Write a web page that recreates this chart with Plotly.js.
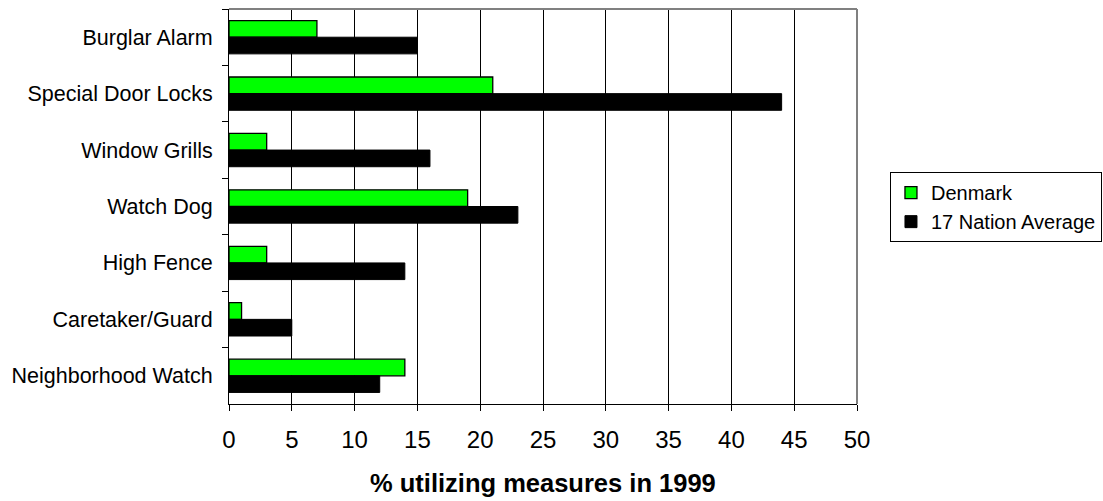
<!DOCTYPE html>
<html>
<head>
<meta charset="utf-8">
<script src="https://cdn.plot.ly/plotly-3.0.1.min.js"></script>
<style>
html,body{margin:0;padding:0;background:#fff;}
#chart{width:1103px;height:501px;}
</style>
</head>
<body>
<div id="chart"></div>
<script>
const categories = ["Burglar Alarm", "Special Door Locks", "Window Grills", "Watch Dog", "High Fence", "Caretaker/Guard", "Neighborhood Watch"];
const denmark = [7, 21, 3, 19, 3, 1, 14];
const nationAverage = [15, 44, 16, 23, 14, 5, 12];
const seriesNames = ["Denmark", "17 Nation Average"];
const xTicks = [0, 5, 10, 15, 20, 25, 30, 35, 40, 45, 50];
const xTitle = "% utilizing measures in 1999";

const FONT = "Liberation Sans, Arial, sans-serif";

const traces = [
  {
    type: "bar", orientation: "h", name: seriesNames[0],
    y: categories, x: denmark,
    marker: {color: "#00FF00", line: {color: "#000000", width: 1.3}},
    hoverinfo: "x+y"
  },
  {
    type: "bar", orientation: "h", name: seriesNames[1],
    y: categories, x: nationAverage,
    marker: {color: "#000000", line: {color: "#000000", width: 1}},
    hoverinfo: "x+y"
  }
];

const layout = {
  width: 1103, height: 501,
  paper_bgcolor: "#ffffff", plot_bgcolor: "#ffffff",
  margin: {l: 229, r: 246, t: 9, b: 97, autoexpand: false},
  font: {family: FONT, color: "#000000", size: 20},
  barmode: "group", bargap: 0.41, bargroupgap: 0,
  showlegend: true,
  legend: {
    x: 1.0525, xanchor: "left", y: 0.587, yanchor: "top",
    bordercolor: "#000000", borderwidth: 1, bgcolor: "#ffffff",
    font: {family: FONT, size: 20, color: "#000000"},
    itemwidth: 30, traceorder: "normal", tracegroupgap: 0
  },
  xaxis: {
    range: [0, 50], tickvals: xTicks, ticktext: xTicks.map(String),
    ticks: "outside", ticklen: 6, tickcolor: "#000000", tickwidth: 1,
    showgrid: true, gridcolor: "#000000", gridwidth: 1,
    zeroline: false, showline: true, linecolor: "#000000", linewidth: 1,
    tickfont: {family: FONT, size: 24, color: "#000000"},
    ticklabelstandoff: 8,
    fixedrange: true
  },
  yaxis: {
    type: "category", autorange: "reversed",
    tickson: "boundaries", ticks: "outside", ticklen: 6, tickcolor: "#000000",
    showgrid: false, zeroline: false, showline: true, linecolor: "#000000", linewidth: 1,
    tickfont: {family: FONT, size: 21.5, color: "#000000"},
    ticklabelstandoff: 11,
    fixedrange: true
  },
  shapes: [
    {type: "line", xref: "paper", yref: "paper", x0: 0, x1: 1, y0: 1, y1: 1, line: {color: "#808080", width: 2}},
    {type: "line", xref: "paper", yref: "paper", x0: 1, x1: 1, y0: 0, y1: 1, line: {color: "#808080", width: 2}}
  ],
  annotations: [
    {
      text: "<b>" + xTitle + "</b>", xref: "paper", yref: "paper",
      x: 0.5, y: -0.2, xanchor: "center", yanchor: "middle",
      showarrow: false, font: {family: FONT, size: 25.5, color: "#000000"}
    }
  ]
};

Plotly.newPlot("chart", traces, layout, {displayModeBar: false, staticPlot: true});
</script>
</body>
</html>
